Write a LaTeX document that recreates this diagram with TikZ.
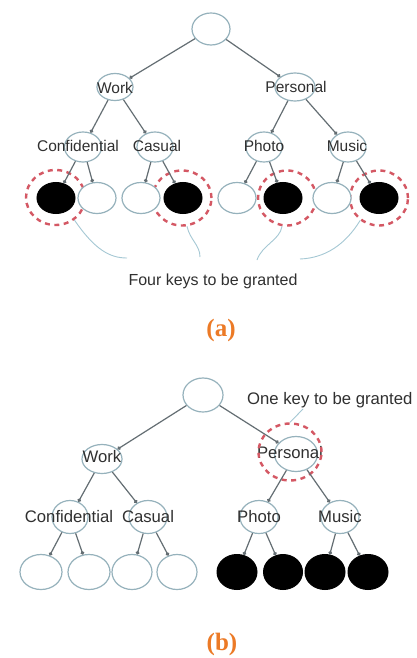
\documentclass[tikz,border=0pt]{standalone}
\usepackage{fontspec}
\setmainfont{Liberation Sans}
\newfontfamily\capfont{Liberation Serif}
\usetikzlibrary{shapes.geometric,arrows.meta}
\definecolor{ellline}{RGB}{150,178,188}
\definecolor{edgeline}{RGB}{100,110,115}
\definecolor{keyred}{RGB}{212,88,100}
\definecolor{keyblue}{RGB}{165,200,212}
\definecolor{txt}{RGB}{48,48,48}
\definecolor{capcol}{RGB}{236,122,38}
\tikzset{
  x=1pt, y=-1pt,
  ell/.style={ellipse, draw=ellline, line width=1.2pt, fill=white, inner sep=0pt},
  leafw/.style={ell, minimum width=38pt, minimum height=31pt},
  leafb/.style={ellipse, draw=black, fill=black, line width=1pt, inner sep=0pt, minimum width=38pt, minimum height=31pt},
  ring/.style={ellipse, draw=keyred, line width=2.4pt, dash pattern=on 5pt off 4.5pt, inner sep=0pt},
  lbl/.style={text=txt, font=\fontsize{15.5}{18}\selectfont, inner sep=0pt},
  lblb/.style={text=txt, font=\fontsize{16.7}{19}\selectfont, inner sep=0pt},
  edge/.style={draw=edgeline, line width=1.2pt, -{Circle[length=3.6pt]}},
  keyline/.style={draw=keyblue, line width=0.9pt},
  captext/.style={text=capcol, font=\capfont\bfseries\fontsize{25}{29}\selectfont, inner sep=0pt}
}
\begin{document}
\begin{tikzpicture}
\useasboundingbox[fill=white] (0,0) rectangle (416,658);

% ---------------- tree (a): four leaf keys ----------------
\node[ell, minimum width=38pt, minimum height=32pt] (ra) at (211,29) {};
\node[ell, minimum width=36pt, minimum height=27pt] (wa) at (115,87) {};
\node[ell, minimum width=40pt, minimum height=28pt] (pa) at (295,87) {};
\node[ell, minimum width=37pt, minimum height=30pt] (ca) at (83,147) {};
\node[ell, minimum width=36pt, minimum height=30pt] (sa) at (155,147) {};
\node[ell, minimum width=36pt, minimum height=30pt] (ha) at (264,147) {};
\node[ell, minimum width=36pt, minimum height=30pt] (ma) at (348,147) {};
\node[lbl] at (115,88) {Work};
\node[lbl] at (296,87) {Personal};
\node[lbl] at (78,146) {Confidential};
\node[lbl] at (157,146) {Casual};
\node[lbl] at (264,146) {Photo};
\node[lbl] at (347,146) {Music};

\node[ring, minimum width=59pt, minimum height=55pt] (r1) at (55.5,197.5) {};
\node[ring, minimum width=59pt, minimum height=55pt] (r4) at (182,198) {};
\node[ring, minimum width=58pt, minimum height=55pt] (r6) at (287,198) {};
\node[ring, minimum width=58pt, minimum height=55pt] (r8) at (379,198) {};

\node[leafb] (a1) at (56,198) {};
\node[leafw] (a2) at (97,198) {};
\node[leafw] (a3) at (141,198) {};
\node[leafb] (a4) at (183,198) {};
\node[leafw] (a5) at (237,198) {};
\node[leafb] (a6) at (283,198) {};
\node[leafw] (a7) at (332,198) {};
\node[leafb] (a8) at (379,198) {};

\draw[edge] (ra) -- (wa);
\draw[edge] (ra) -- (pa);
\draw[edge] (wa) -- (ca);
\draw[edge] (wa) -- (sa);
\draw[edge] (pa) -- (ha);
\draw[edge] (pa) -- (ma);
\draw[edge] (ca) -- (a1);
\draw[edge] (ca) -- (a2);
\draw[edge] (sa) -- (a3);
\draw[edge] (sa) -- (a4);
\draw[edge] (ha) -- (a5);
\draw[edge] (ha) -- (a6);
\draw[edge] (ma) -- (a7);
\draw[edge] (ma) -- (a8);

\node[lbl, font=\fontsize{16}{19}\selectfont] (keys) at (213,281) {Four keys to be granted};
\coordinate (k1) at (127,258);
\coordinate (k2) at (200,257);
\coordinate (k3) at (257,260);
\coordinate (k4) at (300,259);
\draw[keyline] (r1.-50) .. controls (95,250) and (110,258) .. (k1);
\draw[keyline] (r4.-80) .. controls (190,240) and (200,245) .. (k2);
\draw[keyline] (r6.-100) .. controls (280,240) and (262,245) .. (k3);
\draw[keyline] (r8.-130) .. controls (345,245) and (325,258) .. (k4);

\node[captext] (capa) at (221,330) {(a)};

% ---------------- tree (b): one inner key ----------------
\node[ell, minimum width=40pt, minimum height=34pt] (rb) at (203,395) {};
\node[ell, minimum width=40pt, minimum height=29pt] (wb) at (102,459) {};
\node[ell, minimum width=43pt, minimum height=35pt] (pb) at (296,454) {};
\node[ell, minimum width=36pt, minimum height=33pt] (cb) at (70,517) {};
\node[ell, minimum width=38pt, minimum height=33pt] (sb) at (148,517) {};
\node[ell, minimum width=38pt, minimum height=33pt] (hb) at (259,517) {};
\node[ell, minimum width=38pt, minimum height=33pt] (mb) at (340,517) {};
\node[lblb] at (102,457) {Work};
\node[lblb] at (290,453) {Personal};
\node[lblb] at (69,517) {Confidential};
\node[lblb] at (148,517) {Casual};
\node[lblb] at (259,517) {Photo};
\node[lblb] at (340,517) {Music};

\node[ring, minimum width=63pt, minimum height=57pt] (rp) at (290,452) {};

\node[leafw, minimum width=42pt, minimum height=35pt] (b1) at (41,572) {};
\node[leafw, minimum width=42pt, minimum height=35pt] (b2) at (89,572) {};
\node[leafw, minimum width=40pt, minimum height=35pt] (b3) at (132,572) {};
\node[leafw, minimum width=40pt, minimum height=35pt] (b4) at (177,572) {};
\node[leafb, minimum width=40pt, minimum height=35pt] (b5) at (237,572) {};
\node[leafb, minimum width=39pt, minimum height=35pt] (b6) at (283,572) {};
\node[leafb, minimum width=40pt, minimum height=35pt] (b7) at (325,572) {};
\node[leafb, minimum width=40pt, minimum height=35pt] (b8) at (368,572) {};

\draw[edge] (rb) -- (wb);
\draw[edge] (rb) -- (pb);
\draw[edge] (wb) -- (cb);
\draw[edge] (wb) -- (sb);
\draw[edge] (pb) -- (hb);
\draw[edge] (pb) -- (mb);
\draw[edge] (cb) -- (b1);
\draw[edge] (cb) -- (b2);
\draw[edge] (sb) -- (b3);
\draw[edge] (sb) -- (b4);
\draw[edge] (hb) -- (b5);
\draw[edge] (hb) -- (b6);
\draw[edge] (mb) -- (b7);
\draw[edge] (mb) -- (b8);

\node[lblb, anchor=west] (onekey) at (247,400) {One key to be granted};
\coordinate (onefoot) at (303,409);
\draw[keyline] (onefoot) -- (rp.north);

\node[captext] (capb) at (222,644) {(b)};
\end{tikzpicture}
\end{document}
